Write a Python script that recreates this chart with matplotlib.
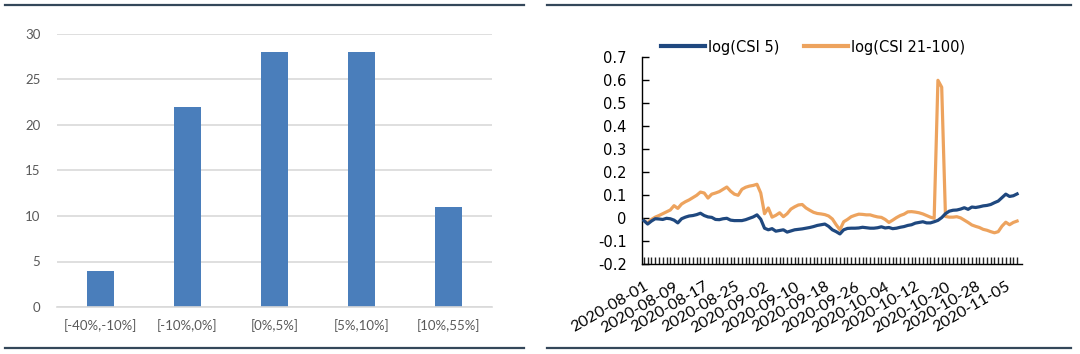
import matplotlib
matplotlib.use("Agg")
import matplotlib.pyplot as plt
from matplotlib.lines import Line2D

# left panel: return buckets and counts
bucket_labels = ['[-40%,-10%]', '[-10%,0%]', '[0%,5%]', '[5%,10%]', '[10%,55%]']
bucket_counts = [4, 22, 28, 28, 11]

# right panel: daily values from 2020-08-01 (100 days)
date_labels = ['2020-08-01', '2020-08-09', '2020-08-17', '2020-08-25', '2020-09-02',
               '2020-09-10', '2020-09-18', '2020-09-26', '2020-10-04', '2020-10-12',
               '2020-10-20', '2020-10-28', '2020-11-05']
label_step = 8

csi5 = [-0.010, -0.025, -0.012, -0.002, -0.003, -0.005, 0.000, -0.002, -0.008, -0.020,
        -0.002, 0.005, 0.010, 0.012, 0.016, 0.022, 0.012, 0.006, 0.004, -0.005,
        -0.006, -0.002, 0.000, -0.008, -0.010, -0.010, -0.010, -0.006, 0.000, 0.006,
        0.015, -0.004, -0.043, -0.050, -0.045, -0.056, -0.053, -0.050, -0.060, -0.055,
        -0.050, -0.048, -0.046, -0.043, -0.040, -0.036, -0.031, -0.028, -0.025, -0.035,
        -0.050, -0.058, -0.068, -0.050, -0.044, -0.043, -0.043, -0.042, -0.039, -0.041,
        -0.043, -0.043, -0.041, -0.037, -0.042, -0.040, -0.045, -0.043, -0.039, -0.036,
        -0.031, -0.028, -0.021, -0.018, -0.015, -0.020, -0.020, -0.015, -0.009, 0.003,
        0.020, 0.031, 0.035, 0.036, 0.040, 0.046, 0.039, 0.049, 0.047, 0.050,
        0.054, 0.056, 0.060, 0.068, 0.075, 0.090, 0.105, 0.095, 0.098, 0.106]

csi21_100 = [-0.010, -0.020, -0.005, 0.005, 0.012, 0.020, 0.028, 0.036, 0.055, 0.043,
             0.062, 0.072, 0.080, 0.090, 0.100, 0.114, 0.110, 0.088, 0.105, 0.110,
             0.116, 0.126, 0.136, 0.118, 0.105, 0.100, 0.126, 0.135, 0.140, 0.143,
             0.148, 0.110, 0.020, 0.045, 0.005, 0.013, 0.024, 0.007, 0.020, 0.040,
             0.050, 0.058, 0.060, 0.045, 0.035, 0.026, 0.021, 0.019, 0.016, 0.010,
             -0.003, -0.028, -0.050, -0.015, -0.005, 0.007, 0.013, 0.018, 0.017, 0.015,
             0.015, 0.010, 0.006, 0.004, -0.005, -0.018, -0.008, 0.003, 0.012, 0.018,
             0.028, 0.029, 0.027, 0.024, 0.019, 0.012, 0.005, 0.000, 0.600, 0.570,
             0.008, 0.005, 0.005, 0.007, 0.002, -0.008, -0.018, -0.029, -0.035, -0.040,
             -0.048, -0.052, -0.058, -0.063, -0.058, -0.034, -0.017, -0.028, -0.018, -0.012]

bar_color = '#4a7ebb'
blue = '#1f487f'
orange = '#eda35e'
frame_color = '#34475a'

fig = plt.figure(figsize=(10.8, 3.54), dpi=100)

# ---- left: bar chart
ax1 = fig.add_axes([57/1080, 1-307/354, 435/1080, 273/354])
ax1.bar(range(len(bucket_counts)), bucket_counts, width=0.3, color=bar_color, zorder=2)
ax1.set_xlim(-0.5, len(bucket_counts) - 0.5)
ax1.set_ylim(0, 30)
ax1.set_yticks(range(0, 31, 5))
ax1.set_xticks(range(len(bucket_labels)))
ax1.set_xticklabels(bucket_labels)
ax1.grid(axis='y', color='#d9d9d9', lw=1.2, zorder=0)
for s in ['top', 'right', 'left']:
    ax1.spines[s].set_visible(False)
ax1.spines['bottom'].set_color('#d9d9d9')
ax1.spines['bottom'].set_linewidth(1.2)
ax1.tick_params(axis='both', length=0, labelsize=9.5, colors='#595959', labelfontfamily='Lato')
ax1.tick_params(axis='x', pad=9)
ax1.tick_params(axis='y', pad=12)

# ---- right: line chart
ax2 = fig.add_axes([642/1080, 1-264.3/354, 380/1080, 207/354])
days = range(len(csi5))
ax2.plot(days, csi5, color=blue, lw=2.3, label='log(CSI 5)', zorder=3)
ax2.plot(days, csi21_100, color=orange, lw=2.3, label='log(CSI 21-100)', zorder=2)
ax2.set_xlim(-0.5, 100.3)
ax2.set_ylim(-0.2, 0.7)
ax2.set_yticks([-0.2, -0.1, 0, 0.1, 0.2, 0.3, 0.4, 0.5, 0.6, 0.7])
ax2.set_yticklabels(['-0.2', '-0.1', '0', '0.1', '0.2', '0.3', '0.4', '0.5', '0.6', '0.7'])
ax2.set_xticks([i * label_step for i in range(len(date_labels))])
ax2.set_xticklabels(date_labels, rotation=30, ha='right', va='top', rotation_mode='anchor',
                    fontfamily='Lato')
ax2.set_xticks(list(days), minor=True)
ax2.spines['top'].set_visible(False)
ax2.spines['right'].set_visible(False)
ax2.spines['left'].set_linewidth(1.0)
ax2.spines['bottom'].set_linewidth(1.0)
ax2.tick_params(axis='y', direction='in', length=5, width=1.0, labelsize=10.5, pad=11)
ax2.tick_params(axis='x', which='both', direction='in', length=5, width=1.0, color='#222222')
ax2.tick_params(axis='x', which='major', labelsize=11.5, pad=11)
ax2.legend(loc='lower center', bbox_to_anchor=(0.45, 0.985), ncol=2, frameon=False,
           fontsize=10.5, handlelength=3.0, handletextpad=0.2, columnspacing=1.7,
           borderaxespad=0)
for h in ax2.get_legend().get_lines():
    h.set_linewidth(3)

# panel borders
for x0, x1 in [(5, 524), (547, 1071)]:
    for y in [5, 348]:
        fig.add_artist(Line2D([x0/1080, x1/1080], [1-y/354, 1-y/354],
                              color=frame_color, lw=1.6))

fig.savefig('out.png', dpi=100)
